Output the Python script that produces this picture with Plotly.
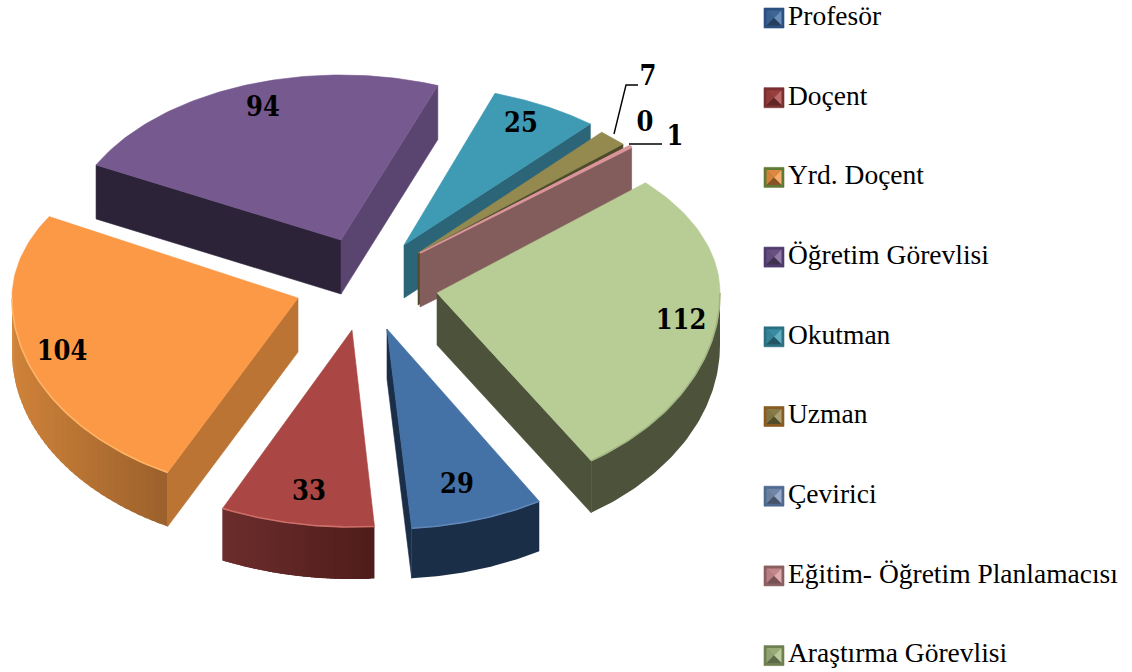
import numpy as np
import plotly.graph_objects as go

# ---- data ----
categories = ["Profesör", "Doçent", "Yrd. Doçent", "Öğretim Görevlisi", "Okutman",
              "Uzman", "Çevirici", "Eğitim- Öğretim Planlamacısı", "Araştırma Görevlisi"]
values = [29, 33, 104, 94, 25, 7, 0, 1, 112]

# ---- style ----
top_colors = ["#4471a6", "#aa4644", "#fb9947", "#75598f", "#3f9ab3", "#948a50", "#7f96ba", "#d9959a", "#b8cd95"]
wall_left = ["#1b2e47", "#6b2d2c", "#cf8239", "#2c2339", "#2c6577", "#4f4a2a", "#3c4a60", "#835c5c", "#4d533b"]
wall_right = ["#1b2e47", "#4f1c1b", "#9a602b", "#2c2339", "#2c6577", "#4f4a2a", "#3c4a60", "#835c5c", "#4d533b"]
start_wall = ["#1b2e47", "#5a2423", "#bb7433", "#2c2339", "#2c6577", "#4f4a2a", "#3c4a60", "#835c5c", "#4d533b"]
end_wall = ["#1b2e47", "#5a2423", "#bb7433", "#5a4570", "#2c6577", "#4f4a2a", "#3c4a60", "#835c5c", "#4d533b"]
rim_colors = ["#5f88b8", "#cc6f69", "#ffb468", None, None, None, None, None, "#a3b584"]

legend_frame = ["#2b5080", "#7a3030", "#5f7a35", "#4f3a6e", "#2b6f82", "#8a5a20", "#4f6a90", "#8a5f5f", "#6f8050"]
legend_face = ["#4471a6", "#aa4644", "#f79646", "#75598f", "#3f9ab3", "#948a50", "#7f96ba", "#d9959a", "#a9bf85"]

# geometry per slice
apex_x = [387, 352, 298, 341, 404, 418, 420, 420, 437]
apex_y = [329, 330, 298, 240, 245, 253, 253, 253, 293]
radius_x = [300, 305, 286, 275, 285, 280, 285, 285, 283]
radius_back = [165, 165, 165, 165, 160, 160, 158, 158, 163]
radius_front = [200, 197, 196, 196, 196, 196, 196, 196, 200]
rotation = [2, 2.5, 4.5, 2, 0, 0, 0, 0, -0.5]
depth = [50, 52, 54, 54, 53, 52, 54, 54, 52]
START = 147.5
draw_order = [4, 5, 7, 3, 2, 8, 1, 0]

label_x = [457, 309, 62, 263, 521, 648, 645, 675, 681]
label_y = [486, 493, 353, 109, 125, 78, 124, 138, 322]

leg_x, leg_text_x, leg_y0, leg_dy, leg_half = 774, 788, 18, 79.7, 10

fig = go.Figure()


def poly(xs, ys, color, width=0.6, name=None):
    fig.add_trace(go.Scatter(
        x=list(xs), y=list(ys), mode="lines", fill="toself", fillcolor=color,
        line=dict(color=color, width=width),
        hoverinfo="skip" if name is None else "text", text=name, showlegend=False))


def mix(a, b, t):
    t = min(1.0, max(0.0, t))
    ca = [int(a[i:i + 2], 16) for i in (1, 3, 5)]
    cb = [int(b[i:i + 2], 16) for i in (1, 3, 5)]
    return "#%02x%02x%02x" % tuple(int(round(p + (q - p) * t)) for p, q in zip(ca, cb))


def rim(i, th):
    th = np.asarray(th, dtype=float)
    r = np.radians(th)
    c = np.cos(r)
    ry = np.where(c > 0, radius_back[i], radius_front[i])
    return apex_x[i] + radius_x[i] * np.sin(r), apex_y[i] - ry * c


total = sum(values)
spans = [v / total * 360 for v in values]
starts = START + np.concatenate([[0], np.cumsum(spans)[:-1]])

for i in draw_order:
    a = (starts[i] + rotation[i]) % 360
    b = a + spans[i]
    d = depth[i]
    ax, ay = apex_x[i], apex_y[i]
    # flat cut walls, only when they face the viewer
    if np.sin(np.radians(a)) < 0:
        x0, y0 = rim(i, a)
        poly([ax, float(x0), float(x0), ax, ax], [ay, float(y0), float(y0) + d, ay + d, ay], start_wall[i])
    if np.sin(np.radians(b)) > 0:
        x1, y1 = rim(i, b)
        poly([ax, float(x1), float(x1), ax, ax], [ay, float(y1), float(y1) + d, ay + d, ay], end_wall[i])
    # curved outer wall (front half only), drawn as shaded strips
    lo, hi = max(a, 90), min(b, 270)
    if hi > lo:
        xa, xb = float(rim(i, lo)[0]), float(rim(i, hi)[0])
        x_left, x_right = min(xa, xb), max(xa, xb)
        n_strips = 40 if wall_left[i] != wall_right[i] else 1
        edges = np.linspace(lo, hi, n_strips + 1)
        for k in range(n_strips):
            th = np.linspace(edges[k], min(edges[k + 1] + 1.0, hi), 12 if n_strips > 1 else 60)
            xs, ys = rim(i, th)
            t = (float(xs.mean()) - x_left) / max(1e-6, x_right - x_left)
            color = mix(wall_left[i], wall_right[i], t)
            poly(list(xs) + list(xs[::-1]) + [xs[0]], list(ys) + list(ys[::-1] + d) + [ys[0]], color, width=0)
    # top face
    th = np.linspace(a, b, 80)
    xs, ys = rim(i, th)
    poly([ax] + list(xs) + [ax], [ay] + list(ys) + [ay], top_colors[i],
         width=1.6 if values[i] <= 1 else 0.6, name=f"{categories[i]}: {values[i]}")
    # light bevel along the front rim
    if rim_colors[i] and hi > lo:
        xr, yr = rim(i, np.linspace(lo, hi, 60))
        fig.add_trace(go.Scatter(x=xr, y=yr, mode="lines", line=dict(color=rim_colors[i], width=1.6),
                                 hoverinfo="skip", showlegend=False))

# leader lines (7 and 1)
leader7x, leader7y = [614, 626, 638], [134, 85, 85]
leader1x, leader1y = [629, 662], [144, 144]
for lx, ly in ((leader7x, leader7y), (leader1x, leader1y)):
    fig.add_trace(go.Scatter(x=lx, y=ly, mode="lines", line=dict(color="#000000", width=1.4),
                             hoverinfo="skip", showlegend=False))

# value labels
fig.add_trace(go.Scatter(x=label_x, y=label_y, mode="text", text=[str(v) for v in values],
                         textposition="middle center", hoverinfo="skip", showlegend=False,
                         textfont=dict(family="DejaVu Serif Condensed, DejaVu Serif", size=27,
                                       color="#000000", weight="bold")))

# legend keys (bevelled squares) and names
for n, (frame, face) in enumerate(zip(legend_frame, legend_face)):
    cy = leg_y0 + n * leg_dy
    x0, x1, y0, y1 = leg_x - leg_half, leg_x + leg_half, cy - leg_half, cy + leg_half
    poly([x0, x1, x1, x0, x0], [y0, y0, y1, y1, y0], frame)
    g = 2.5
    ix0, ix1, iy0, iy1 = x0 + g, x1 - g, y0 + g, y1 - g
    poly([ix0, ix1, leg_x, ix0], [iy0, iy0, cy, iy0], mix(face, "#000000", 0.1), width=0)
    poly([ix0, ix0, leg_x, ix0], [iy0, iy1, cy, iy0], mix(face, "#000000", 0.15), width=0)
    poly([ix1, ix1, leg_x, ix1], [iy0, iy1, cy, iy0], mix(face, "#ffffff", 0.2), width=0)
    poly([ix0, ix1, leg_x, ix0], [iy1, iy1, cy, iy1], mix(face, "#000000", 0.45), width=0)

fig.add_trace(go.Scatter(x=[leg_text_x] * len(categories),
                         y=[leg_y0 + n * leg_dy for n in range(len(categories))],
                         mode="text", text=categories, textposition="middle right",
                         hoverinfo="skip", showlegend=False,
                         textfont=dict(family="Liberation Serif", size=27.5, color="#000000")))

fig.update_layout(
    width=1132, height=672, margin=dict(l=0, r=0, t=0, b=0),
    paper_bgcolor="#ffffff", plot_bgcolor="#ffffff", showlegend=False,
    xaxis=dict(range=[0, 1132], visible=False, fixedrange=True),
    yaxis=dict(range=[672, 0], visible=False, fixedrange=True),
)
fig.write_html("out.html", config={"displayModeBar": False},
               post_script="document.body.style.margin='0';")
